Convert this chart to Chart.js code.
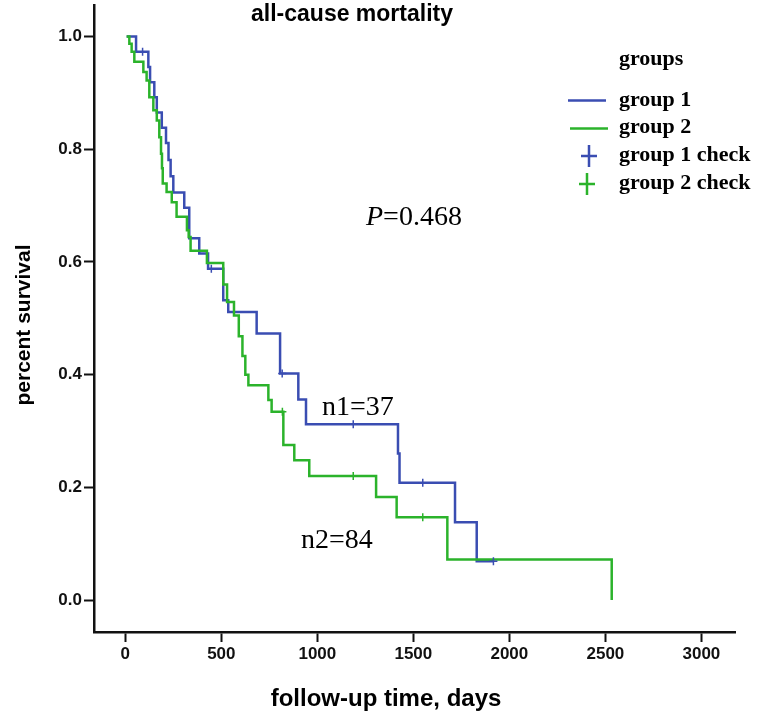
<!DOCTYPE html>
<html>
<head>
<meta charset="utf-8">
<title>all-cause mortality</title>
<script src="https://cdn.jsdelivr.net/npm/chart.js@4.4.1/dist/chart.umd.min.js"></script>
<style>
    html, body { margin: 0; padding: 0; background: #fff; }
    #wrap { width: 765px; height: 718px; }
</style>
</head>
<body>
<div id="wrap"><canvas id="kmChart" width="765" height="718"></canvas></div>
<script>
// Kaplan-Meier data (days, survival after each event)
const group1Days = [7, 56, 120, 129, 151, 164, 190, 212, 225, 236, 250, 307, 333, 385, 431, 510, 536, 684, 806, 901, 941, 1420, 1428, 1717, 1830, 1917];
const group1Surv = [1.0, 0.973, 0.946, 0.919, 0.892, 0.865, 0.838, 0.811, 0.781, 0.752, 0.723, 0.696, 0.642, 0.615, 0.588, 0.532, 0.511, 0.473, 0.402, 0.356, 0.312, 0.260, 0.208, 0.138, 0.069, 0.069];
const group1CensorDays = [90, 448, 817, 1187, 1549, 1917];
const group1CensorSurv = [0.973, 0.588, 0.402, 0.312, 0.208, 0.069];

const group2Days = [7, 21, 33, 47, 94, 111, 125, 146, 164, 177, 186, 191, 195, 215, 242, 267, 321, 330, 340, 425, 510, 530, 566, 591, 610, 625, 641, 745, 762, 823, 880, 958, 1306, 1413, 1677, 2533];
const group2Surv = [1.0, 0.987, 0.973, 0.955, 0.937, 0.922, 0.892, 0.869, 0.851, 0.821, 0.792, 0.766, 0.739, 0.724, 0.706, 0.680, 0.656, 0.644, 0.620, 0.598, 0.560, 0.529, 0.505, 0.468, 0.433, 0.400, 0.381, 0.355, 0.334, 0.275, 0.248, 0.220, 0.183, 0.147, 0.072, 0.0];
const group2CensorDays = [818, 1187, 1549];
const group2CensorSurv = [0.334, 0.220, 0.147];

const xTicks = [0, 500, 1000, 1500, 2000, 2500, 3000];
const yTicks = [0.0, 0.2, 0.4, 0.6, 0.8, 1.0];

const BLUE = '#3a4db2';
const GREEN = '#2bb32b';
const SANS = "'Liberation Sans', Arial, sans-serif";
const SERIF = "'Liberation Serif', 'Times New Roman', serif";

function toPoints(xs, ys) {
    return xs.map((x, i) => ({ x: x, y: ys[i] }));
}

// Text, legend and axis titles drawn on top of the chart
const annotations = {
    id: 'annotations',
    afterDraw(chart) {
        const ctx = chart.ctx;
        ctx.save();
        ctx.fillStyle = '#000';
        ctx.textBaseline = 'alphabetic';

        // title
        ctx.font = 'bold 23px ' + SANS;
        ctx.textAlign = 'center';
        ctx.fillText('all-cause mortality', 352, 21);

        // axis titles
        ctx.font = 'bold 24px ' + SANS;
        ctx.fillText('follow-up time, days', 386, 706);
        ctx.save();
        ctx.translate(30, 325);
        ctx.rotate(-Math.PI / 2);
        ctx.font = 'bold 21px ' + SANS;
        ctx.fillText('percent survival', 0, 0);
        ctx.restore();

        // P value and group sizes
        ctx.textAlign = 'left';
        ctx.font = 'italic 28px ' + SERIF;
        ctx.fillText('P', 366, 225);
        const pw = ctx.measureText('P').width;
        ctx.font = '28px ' + SERIF;
        ctx.fillText('=0.468', 366 + pw, 225);
        ctx.fillText('n1=37', 322, 415);
        ctx.fillText('n2=84', 301, 548);

        // legend
        ctx.font = 'bold 22px ' + SERIF;
        ctx.fillText('groups', 619, 65);
        ctx.fillText('group 1', 619, 106);
        ctx.fillText('group 2', 619, 133);
        ctx.fillText('group 1 check', 619, 161);
        ctx.fillText('group 2 check', 619, 189);

        ctx.lineWidth = 2.5;
        ctx.strokeStyle = BLUE;
        ctx.beginPath(); ctx.moveTo(568, 100.5); ctx.lineTo(606, 100.5); ctx.stroke();
        ctx.strokeStyle = GREEN;
        ctx.beginPath(); ctx.moveTo(570, 128.5); ctx.lineTo(608, 128.5); ctx.stroke();

        const cross = (cx, cy, color) => {
            ctx.strokeStyle = color;
            ctx.beginPath();
            ctx.moveTo(cx - 8, cy); ctx.lineTo(cx + 8, cy);
            ctx.moveTo(cx, cy - 11); ctx.lineTo(cx, cy + 11);
            ctx.stroke();
        };
        cross(589, 156, BLUE);
        cross(587, 184, GREEN);
        ctx.restore();
    }
};

new Chart(document.getElementById('kmChart'), {
    type: 'scatter',
    data: {
        datasets: [
            {
                label: 'group 1',
                data: toPoints(group1Days, group1Surv),
                showLine: true,
                stepped: 'before',
                borderColor: BLUE,
                borderWidth: 2.5,
                pointRadius: 0,
                order: 3
            },
            {
                label: 'group 2',
                data: toPoints(group2Days, group2Surv),
                showLine: true,
                stepped: 'before',
                borderColor: GREEN,
                borderWidth: 2.5,
                pointRadius: 0,
                order: 2
            },
            {
                label: 'group 1 check',
                data: toPoints(group1CensorDays, group1CensorSurv),
                showLine: false,
                pointStyle: 'cross',
                pointRadius: 4,
                borderWidth: 1.5,
                borderColor: BLUE,
                order: 1
            },
            {
                label: 'group 2 check',
                data: toPoints(group2CensorDays, group2CensorSurv),
                showLine: false,
                pointStyle: 'cross',
                pointRadius: 4,
                borderWidth: 1.5,
                borderColor: GREEN,
                order: 0
            }
        ]
    },
    options: {
        responsive: false,
        animation: false,
        devicePixelRatio: 1,
        layout: { padding: { top: 5, right: 30, left: 0, bottom: 0 } },
        plugins: {
            legend: { display: false },
            tooltip: { enabled: false }
        },
        scales: {
            x: {
                type: 'linear',
                min: -163,
                max: 3175,
                afterBuildTicks: (scale) => { scale.ticks = xTicks.map(v => ({ value: v })); },
                afterFit: (scale) => { scale.height = 86; },
                border: { display: true, color: '#111', width: 2.5 },
                grid: { drawOnChartArea: false, drawTicks: true, tickLength: 10, tickWidth: 2, tickColor: '#111' },
                ticks: {
                    color: '#111',
                    padding: 2,
                    font: { family: SANS, size: 17, weight: 'bold' },
                    callback: (v) => String(v)
                }
            },
            y: {
                type: 'linear',
                min: -0.0567,
                max: 1.055,
                afterBuildTicks: (scale) => { scale.ticks = yTicks.map(v => ({ value: v })); },
                afterFit: (scale) => {
                    scale.width = 94;
                    scale.paddingTop = 0;
                    scale.paddingBottom = 0;
                },
                border: { display: true, color: '#111', width: 2.5 },
                grid: { drawOnChartArea: false, drawTicks: true, tickLength: 10, tickWidth: 2, tickColor: '#111' },
                ticks: {
                    color: '#111',
                    padding: 2,
                    font: { family: SANS, size: 17, weight: 'bold' },
                    callback: (v) => v.toFixed(1)
                }
            }
        }
    },
    plugins: [annotations]
});
</script>
</body>
</html>
